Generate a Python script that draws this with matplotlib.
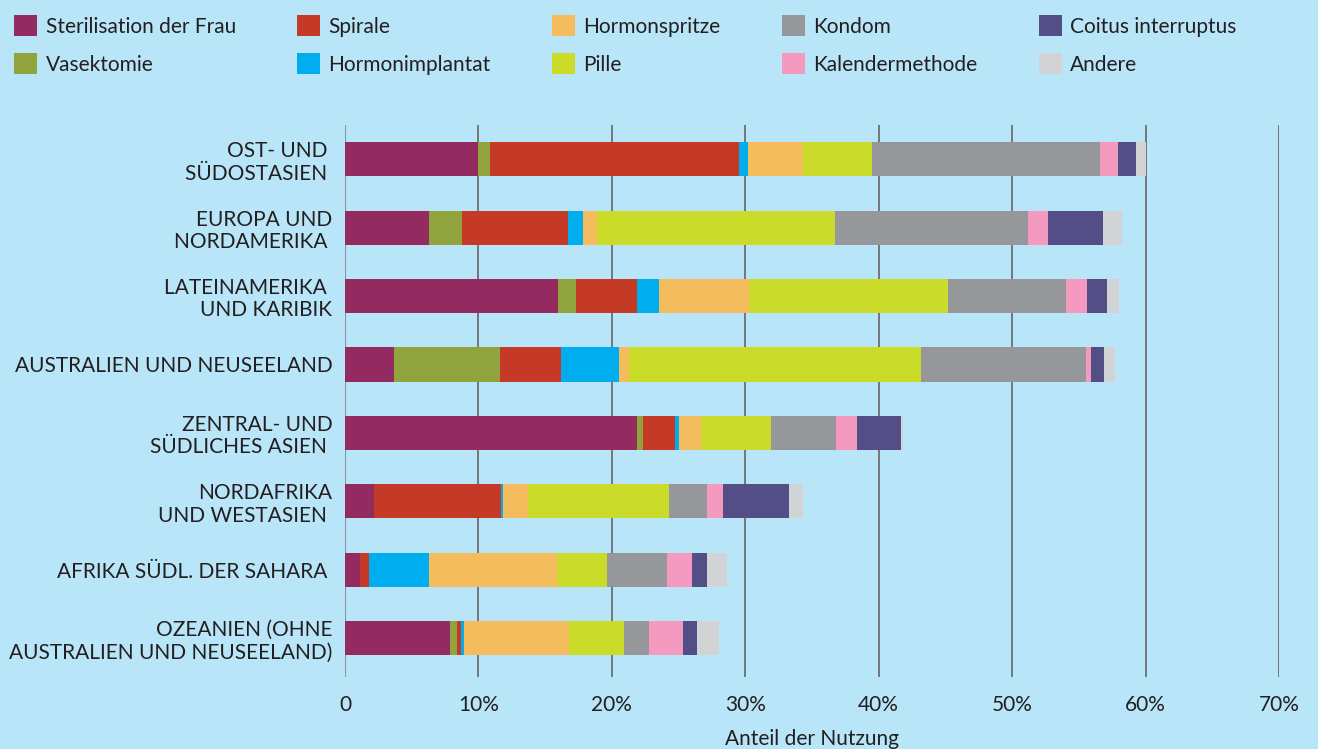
import numpy as np
import matplotlib.pyplot as plt
from matplotlib.ticker import FuncFormatter

plt.rcParams['font.family'] = ['Lato', 'DejaVu Sans']

# ── data (percent of use) ────────────────────────────────────────────
regions = [
    'OST- UND \nSÜDOSTASIEN ',
    'EUROPA UND\nNORDAMERIKA ',
    'LATEINAMERIKA \nUND KARIBIK',
    'AUSTRALIEN UND NEUSEELAND',
    'ZENTRAL- UND\nSÜDLICHES ASIEN ',
    'NORDAFRIKA\nUND WESTASIEN ',
    'AFRIKA SÜDL. DER SAHARA ',
    'OZEANIEN (OHNE\nAUSTRALIEN UND NEUSEELAND)',
]

methods = ['Sterilisation der Frau', 'Vasektomie', 'Spirale', 'Hormonimplantat',
           'Hormonspritze', 'Pille', 'Kondom', 'Kalendermethode',
           'Coitus interruptus', 'Andere']

sterilisation = [10.0, 6.3, 16.0, 3.7, 21.9, 2.2, 1.1, 7.9]
vasektomie    = [0.9, 2.5, 1.3, 7.9, 0.4, 0.0, 0.0, 0.5]
spirale       = [18.6, 7.9, 4.6, 4.6, 2.4, 9.5, 0.7, 0.3]
implantat     = [0.7, 1.1, 1.6, 4.3, 0.3, 0.15, 4.5, 0.2]
spritze       = [4.1, 1.1, 6.8, 0.8, 1.7, 1.9, 9.6, 7.9]
pille         = [5.2, 17.8, 14.9, 21.9, 5.2, 10.5, 3.7, 4.1]
kondom        = [17.1, 14.5, 8.8, 12.3, 4.9, 2.9, 4.5, 1.9]
kalender      = [1.3, 1.5, 1.6, 0.4, 1.6, 1.2, 1.9, 2.5]
coitus        = [1.4, 4.1, 1.5, 1.0, 3.3, 4.9, 1.1, 1.1]
andere        = [0.7, 1.4, 0.9, 0.8, 0.15, 1.1, 1.5, 1.6]

series = [sterilisation, vasektomie, spirale, implantat, spritze,
          pille, kondom, kalender, coitus, andere]

colors = ['#932b60', '#91a33c', '#c53a26', '#00aeef', '#f4bc5c',
          '#cbdb2a', '#96979b', '#f49ac1', '#534f86', '#d1d3d4']

BG = '#b9e5f9'
TXT = '#231f20'
FS = 15

fig = plt.figure(figsize=(13.18, 7.49), dpi=100, facecolor=BG)
ax = fig.add_axes([345 / 1318, 1 - 677 / 749, (1279 - 345) / 1318, (677 - 125) / 749])
ax.set_facecolor(BG)

y = np.arange(len(regions))
left = np.zeros(len(regions))
handles = []
for vals, col, name in zip(series, colors, methods):
    vals = np.array(vals)
    b = ax.barh(y, vals, left=left, height=0.5, color=col, label=name, zorder=3)
    handles.append(b)
    left += vals

ax.set_xlim(0, 70)
ax.set_ylim(len(regions) - 0.43, -0.5)
ax.set_xticks(np.arange(0, 71, 10))
ax.xaxis.set_major_formatter(FuncFormatter(lambda v, p: '0' if v == 0 else f'{v:.0f}%'))
ax.set_yticks(y)
ax.set_yticklabels(regions, fontsize=FS, color=TXT, linespacing=1.15)
ax.tick_params(axis='both', length=0, colors=TXT)
ax.tick_params(axis='y', pad=9)
ax.tick_params(axis='x', pad=13, labelsize=FS)

ax.grid(axis='x', color='#6d6e71', lw=1.3, zorder=1)
ax.axvline(0, color='#8a99a3', lw=1.6, zorder=2)
for s in ax.spines.values():
    s.set_visible(False)

ax.set_xlabel('Anteil der Nutzung', fontsize=FS, color=TXT, labelpad=10)

fig.legend(handles=handles, labels=methods, ncol=5, loc='upper left',
           bbox_to_anchor=(4 / 1318, 1 - 5 / 749), frameon=False, fontsize=FS,
           borderpad=0, handlelength=1.1, handleheight=1.15, handletextpad=0.4,
           columnspacing=2.95, labelspacing=0.8, labelcolor=TXT)

fig.savefig('out.png', dpi=100, facecolor=BG)
